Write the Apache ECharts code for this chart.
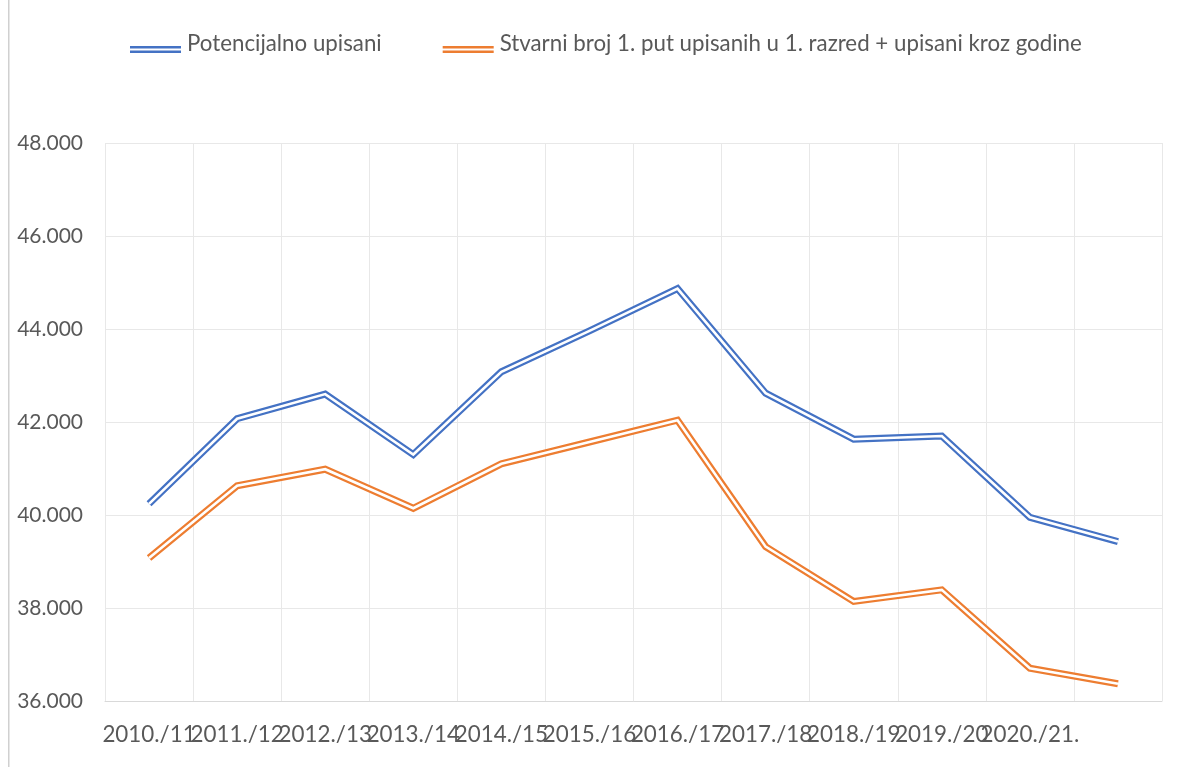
<!DOCTYPE html>
<html>
<head>
<meta charset="utf-8">
<script src="https://cdn.jsdelivr.net/npm/echarts@6/dist/echarts.min.js"></script>
<style>
  html, body { margin: 0; padding: 0; background: #fff; }
  #chart { width: 1189px; height: 767px; }
</style>
</head>
<body>
<div id="chart"></div>
<script>
// school years (last category has no label in the source chart)
var years = ['2010./11', '2011./12', '2012./13', '2013./14', '2014./15', '2015./16',
  '2016./17', '2017./18', '2018./19', '2019./20', '2020./21.', ''];

var potencijalno = [40240, 42070, 42600, 41300, 43080, 43960, 44870, 42620, 41630, 41700, 39950, 39430];
var stvarni = [39075, 40630, 40985, 40145, 41100, 41570, 42040, 39320, 38140, 38390, 36705, 36370];

var seriesNames = ['Potencijalno upisani', 'Stvarni broj 1. put upisanih u 1. razred + upisani kroz godine'];

var yTicks = { min: 36000, max: 48000, step: 2000 };

var blue = '#4472c4';
var orange = '#ed7d31';
var textColor = '#595959';
var font = 'Lato, "Liberation Sans", sans-serif';

// two parallel strokes, padded on top so the icon sits a bit below the text middle
var doubleLineIcon = 'path://M0,0L0.01,0M0,11H51V13.5H0ZM0,15.5H51V18H0Z';

function fmt(v) {
  return String(v).replace(/\B(?=(\d{3})+(?!\d))/g, '.');
}

// a compound (double) line = a wide coloured stroke with a thin white stroke on top
function doubleLine(name, data, color) {
  return [
    {
      name: name,
      type: 'line',
      data: data,
      symbol: 'none',
      color: color,
      lineStyle: { color: color, width: 7, join: 'miter', cap: 'butt' },
      itemStyle: { color: color },
      z: 2
    },
    {
      name: name + ' (inner)',
      type: 'line',
      data: data,
      symbol: 'none',
      silent: true,
      lineStyle: { color: '#ffffff', width: 2.6, join: 'miter', cap: 'butt' },
      z: 3
    }
  ];
}

var chartDom = document.getElementById('chart');
var myChart = echarts.init(chartDom);
var option;

option = {
  animation: false,
  backgroundColor: '#ffffff',
  textStyle: { fontFamily: font },
  graphic: [
    {
      type: 'rect',
      shape: { x: 8, y: 0, width: 1.5, height: 767 },
      style: { fill: '#d0d0d0' },
      silent: true
    }
  ],
  legend: {
    left: 130,
    top: 33,
    padding: 0,
    itemWidth: 51,
    itemHeight: 18,
    itemGap: 61,
    textStyle: { color: textColor, fontSize: 22.3, fontFamily: font, padding: [0, 0, 0, 1] },
    data: [
      { name: seriesNames[0], icon: doubleLineIcon, itemStyle: { color: blue, borderWidth: 0 } },
      { name: seriesNames[1], icon: doubleLineIcon, itemStyle: { color: orange, borderWidth: 0 } }
    ]
  },
  grid: {
    left: 105,
    right: 27,
    top: 143,
    bottom: 66
  },
  xAxis: {
    type: 'category',
    data: years,
    boundaryGap: true,
    axisLine: { lineStyle: { color: '#d9d9d9', width: 1 } },
    axisTick: { show: false, interval: 0 },
    axisLabel: {
      interval: 0,
      margin: 23,
      color: textColor,
      fontSize: 22.4,
      fontFamily: font
    },
    splitLine: { show: true, interval: 0, lineStyle: { color: '#e8e8e8', width: 1 } }
  },
  yAxis: {
    type: 'value',
    min: yTicks.min,
    max: yTicks.max,
    interval: yTicks.step,
    axisLine: { show: false },
    axisTick: { show: false },
    axisLabel: {
      margin: 22,
      color: textColor,
      fontSize: 21,
      fontFamily: font,
      formatter: fmt
    },
    splitLine: { lineStyle: { color: '#e8e8e8', width: 1 } }
  },
  series: [].concat(
    doubleLine(seriesNames[0], potencijalno, blue),
    doubleLine(seriesNames[1], stvarni, orange)
  )
};

option && myChart.setOption(option);
</script>
</body>
</html>
